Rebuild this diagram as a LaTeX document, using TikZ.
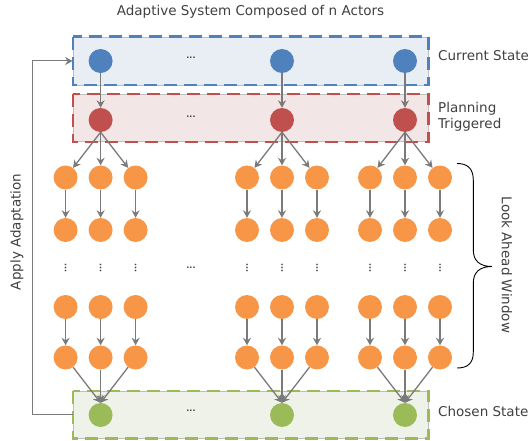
\documentclass[tikz,border=0pt]{standalone}
\usepackage{fontspec}
\setmainfont{DejaVu Sans}
\usetikzlibrary{arrows.meta}

\definecolor{cblue}{HTML}{4F81BD}
\definecolor{cred}{HTML}{C0504D}
\definecolor{corange}{HTML}{F79646}
\definecolor{cgreen}{HTML}{9BBB59}
\definecolor{fblue}{HTML}{E9EEF5}
\definecolor{fred}{HTML}{F3E6E6}
\definecolor{fgreen}{HTML}{EFF2E8}
\definecolor{framegray}{HTML}{BFBFBF}
\definecolor{arrgray}{HTML}{7A7A7A}
\definecolor{txt}{HTML}{404040}

\tikzset{
  lbl/.style={font=\fontsize{13.5}{16.5}\selectfont, text=txt, inner sep=0pt},
  st/.style={circle, minimum size=24pt, inner sep=0pt},
  tip/.style={-{Stealth[length=7.5pt,width=8pt,inset=2.5pt]}},
  arr/.style={draw=arrgray, line width=1.3pt, tip},
  frame/.style={draw=framegray, line width=0.8pt, minimum width=355pt, inner sep=0pt},
  dashedge/.style={line width=2.2pt, dash pattern=on 13pt off 7pt},
  dotstxt/.style={font=\fontsize{8}{8}\selectfont\bfseries, text=txt, inner sep=0pt},
}

\begin{document}
\begin{tikzpicture}[x=1pt,y=-1pt]
\useasboundingbox (0,0) rectangle (531,441);

% title
\node[lbl] (title) at (250.5,12) {Adaptive System Composed of n Actors};

% the three layer frames: thin grey outline with a coloured dashed edge on top
\node[frame, fill=fblue, minimum height=48pt] (cur) at (250.5,61) {};
\draw[dashedge, cblue] (cur.north west) rectangle (cur.south east);
\node[frame, fill=fred, minimum height=47pt] (plan) at (250.5,118) {};
\draw[dashedge, cred] (plan.north west) rectangle (plan.south east);
\node[frame, fill=fgreen, minimum height=47pt] (cho) at (250.5,414.5) {};
\draw[dashedge, cgreen] (cho.north west) rectangle (cho.south east);

% side labels
\node[lbl, anchor=west] (lcur) at (438,56) {Current State};
\node[lbl, anchor=west, align=left] (lplan) at (438,117) {Planning\\Triggered};
\node[lbl, anchor=west] (lcho) at (438,411) {Chosen State};

% actors and their look-ahead trees
\foreach \i/\x in {1/100.6,2/282,3/405} {
  \node[st, fill=cblue] (b\i) at (\x,61) {};
  \node[st, fill=cred] (r\i) at (\x,120) {};
  \node[st, fill=cgreen] (g\i) at (\x,415) {};
  \draw[arr] (b\i) -- (r\i);
  \foreach \j/\dx in {1/-35,2/0,3/35} {
    \pgfmathsetmacro\xx{\x+\dx}
    \foreach \k/\y in {1/177.5,2/230,4/307,5/357.5} {
      \node[st, fill=corange] (o\i\j\k) at (\xx,\y) {};
    }
    \node[dotstxt, rotate=90] (v\i\j) at (\xx,268) {...};
    \draw[arr] (r\i.south) -- (o\i\j1);
    \draw[arr] (o\i\j1) -- (o\i\j2);
    \draw[arr] (o\i\j4) -- (o\i\j5);
    \draw[arr] (o\i\j5) -- (g\i.north);
  }
}

% ellipses between actors
\node[dotstxt] (dc) at (191,58) {...};
\node[dotstxt] (dp) at (191,117) {...};
\node[dotstxt] (dm) at (191,268) {...};
\node[dotstxt] (dg) at (191,411) {...};

% feedback loop
\draw[draw=arrgray, line width=1pt, tip]
  (cho.west) -- ++(-40,0) |- (cur.west);
\node[lbl, rotate=90] (apply) at (17,232) {Apply Adaptation};

% look-ahead brace
\coordinate (bt) at (457,163.5);
\coordinate (bb) at (457,368);
\coordinate (btip) at (492,266.5);
\draw[line width=0.9pt, black]
  (bt) .. controls (467,163.5) and (473.3,168) .. (473.3,180)
  -- (473.3,250) .. controls (473.3,261) and (480,266.5) .. (btip)
  .. controls (480,266.5) and (473.3,272) .. (473.3,283)
  -- (473.3,352) .. controls (473.3,364) and (467,368) .. (bb);
\node[lbl, rotate=-90] (look) at (507,265) {Look Ahead Window};
\end{tikzpicture}
\end{document}
